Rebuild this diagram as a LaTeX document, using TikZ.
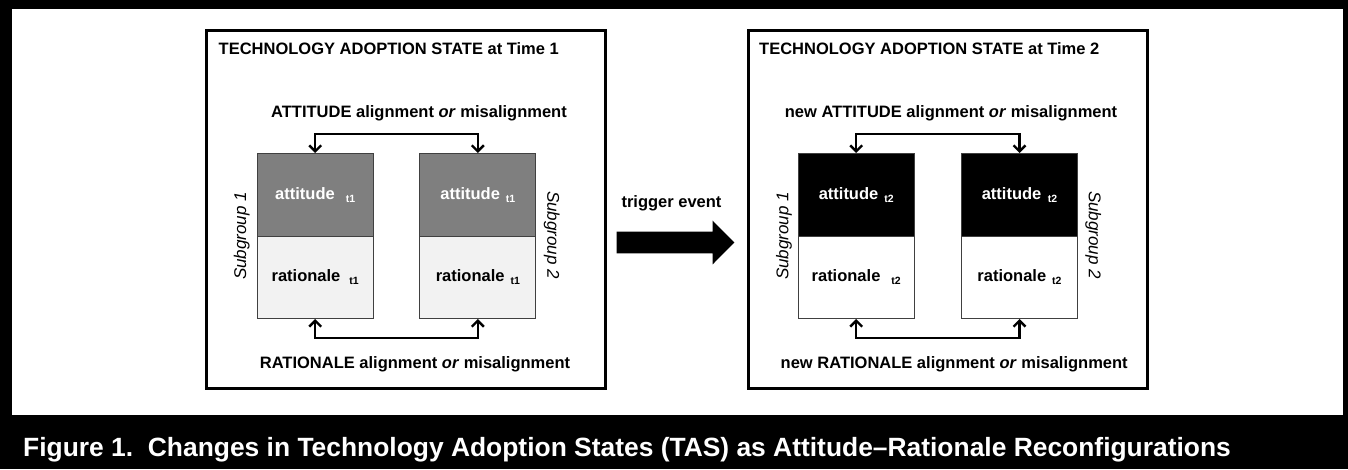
\documentclass[tikz,border=0pt]{standalone}
\usepackage{fontspec}
\setmainfont{Liberation Sans}
\usetikzlibrary{arrows.meta}
\newcommand\myfs[1]{\fontsize{#1}{#1}\selectfont}
\newcommand\mysub[1]{\raisebox{-3pt}{\myfs{10.5}#1}}
\definecolor{attgray}{HTML}{7F7F7F}
\definecolor{ratgray}{HTML}{F2F2F2}
\definecolor{rectline}{HTML}{404040}
\begin{document}
\begin{tikzpicture}[x=1pt,y=-1pt,
  tasbox/.style={draw=black,line width=2.6pt,minimum width=399pt,minimum height=358pt,inner sep=0pt,anchor=north west},
  cell/.style={draw=rectline,line width=1pt,minimum width=116pt,inner sep=0pt,anchor=north west,font=\myfs{16.5}\bfseries},
  attcell/.style={cell,minimum height=83pt,text=white},
  ratcell/.style={cell,minimum height=82pt,text=black},
  lbl/.style={font=\myfs{16.5}\bfseries,inner sep=0pt},
  sg/.style={font=\myfs{17}\itshape,inner sep=0pt},
  conn/.style={line width=2.4pt,{Straight Barb[length=6pt,width=12pt]}-{Straight Barb[length=6pt,width=12pt]}},
]
\useasboundingbox (0,0) rectangle (1348,469);
% outer frame and caption band
\fill[black] (0,0) rectangle (1348,469);
\fill[white] (12,9) rectangle (1343,415);
\node[anchor=base west,text=white,font=\myfs{26.4}\bfseries,inner sep=0pt] (cap) at (23,456)
  {Figure 1.\ \ Changes in Technology Adoption States (TAS) as Attitude–Rationale Reconfigurations};

% ---------- Time 1 ----------
\node[tasbox] (tas1) at (205,29) {};
\node[lbl,anchor=base west] (title1) at (218.5,54) {TECHNOLOGY ADOPTION STATE at Time 1};
\node[lbl,anchor=base] (attal1) at (419,117.3) {ATTITUDE alignment \textit{or} misalignment};
\node[lbl,anchor=base] (ratal1) at (415,368.3) {RATIONALE alignment \textit{or} misalignment};

\node[attcell,fill=attgray] (att1a) at (256.7,153) {attitude\hspace{11pt}\mysub{t1}};
\node[ratcell,fill=ratgray] (rat1a) at (256.7,236) {rationale\hspace{9pt}\mysub{t1}};
\node[attcell,fill=attgray] (att1b) at (419.3,153) {attitude\hspace{6pt}\mysub{t1}};
\node[ratcell,fill=ratgray] (rat1b) at (419.3,236) {rationale\hspace{6pt}\mysub{t1}};

\node[sg,rotate=90] (sg1a) at (241.7,236) {Subgroup 1};
\node[sg,rotate=-90] (sg1b) at (551.7,235) {Subgroup 2};

\draw[conn] (att1a.north) -- ++(0,-19) -| (att1b.north);
\draw[conn] (rat1a.south) -- ++(0,18.7) -| (rat1b.south);

% ---------- trigger ----------
\node[lbl,anchor=base] (trig) at (671.5,207.5) {trigger event};
\fill[black] (616.7,231.7) -- (712.7,231.7) -- (712.7,220.7) -- (734.3,242.5)
  -- (712.7,264.3) -- (712.7,253.3) -- (616.7,253.3) -- cycle;

% ---------- Time 2 ----------
\node[tasbox] (tas2) at (747,29) {};
\node[lbl,anchor=base west] (title2) at (759,54.5) {TECHNOLOGY ADOPTION STATE at Time 2};
\node[lbl,anchor=base] (attal2) at (951,117.3) {new ATTITUDE alignment \textit{or} misalignment};
\node[lbl,anchor=base] (ratal2) at (954.2,368.3) {new RATIONALE alignment \textit{or} misalignment};

\node[attcell,fill=black] (att2a) at (797.7,153) {attitude\hspace{6pt}\mysub{t2}};
\node[ratcell,fill=white] (rat2a) at (797.7,236) {rationale\hspace{11pt}\mysub{t2}};
\node[attcell,fill=black] (att2b) at (961,153) {attitude\hspace{6.5pt}\mysub{t2}};
\node[ratcell,fill=white] (rat2b) at (961,236) {rationale\hspace{6pt}\mysub{t2}};

\node[sg,rotate=90] (sg2a) at (784,236) {Subgroup 1};
\node[sg,rotate=-90] (sg2b) at (1093.3,235) {Subgroup 2};

\draw[conn] (att2a.north) -- ++(0,-19) -| (att2b.north);
\draw[conn] (rat2a.south) -- ++(0,18.7) -| (rat2b.south);
\end{tikzpicture}
\end{document}
